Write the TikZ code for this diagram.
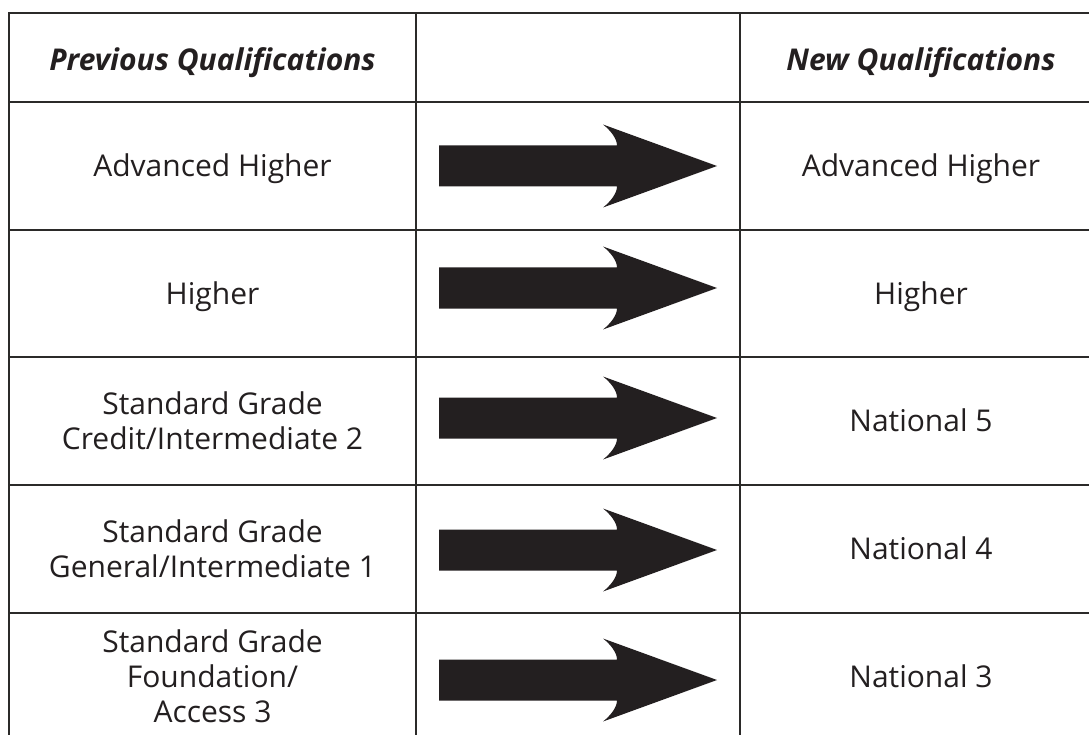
\documentclass[tikz,border=0pt]{standalone}
\usepackage{fontspec}
\setmainfont{Open Sans}
\definecolor{gridgray}{HTML}{2B2A29}
\definecolor{arrowblack}{HTML}{231F20}

\tikzset{
  cell/.style={anchor=base, inner sep=0pt, align=center, text=arrowblack, font=\fontsize{30}{35}\selectfont},
  head/.style={cell, font=\fontsize{30}{35}\selectfont\bfseries\itshape},
  rule/.style={line width=2.6pt, gridgray},
  bigarrow/.style={fill=arrowblack}
}

\begin{document}
\begin{tikzpicture}[x=1pt,y=-1pt]

\useasboundingbox (0,0) rectangle (1089,735);
\clip (0,0) rectangle (1089,735);

\draw [rule] (1100,13) -- (9,13) -- (9,750);
\foreach \x in {416,740}
{
\draw [rule] (\x,13) -- (\x,750);
}
\foreach \y in {102,230,357,485,613}
{
\draw [rule] (9,\y) -- (1100,\y);
}

\node [head] (prevhead) at (212.5,70.7) {Previous Qualifications};
\node [head] (newhead) at (921,70.7) {New Qualifications};

\foreach \n/\a/\b/\c/\old/\new in {
  1/176.75/176.75/166/{Advanced Higher}/{Advanced Higher},
  2/304.25/304.25/288/{Higher}/{Higher},
  3/449.25/431.75/418/{Standard Grade\\Credit/Intermediate 2}/{National 5},
  4/577.25/559.75/550/{Standard Grade\\General/Intermediate 1}/{National 4},
  5/722.75/687.75/680/{Standard Grade\\Foundation/\\Access 3}/{National 3}}
{
\node [cell] (prev\n) at (212.5,\a) {\old};
\node [cell] (new\n) at (921,\b) {\new};
\coordinate (arrow\n) at (578,\c);
\fill [bigarrow, shift={(arrow\n)}] (-139,-20.5) -- (39,-20.5)
  .. controls (39,-28) and (31,-37) .. (25,-41.5) -- (139,0) -- (25,41.5)
  .. controls (31,37) and (39,28) .. (39,20.5) -- (-139,20.5) -- cycle;
}

\end{tikzpicture}
\end{document}
